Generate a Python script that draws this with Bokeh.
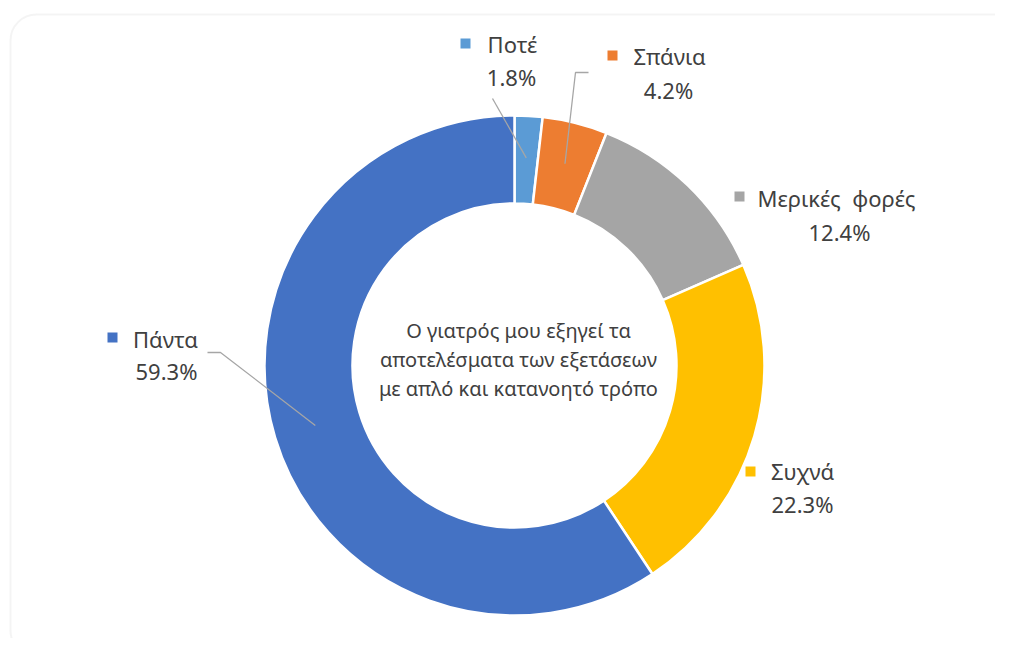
import numpy as np
from bokeh.plotting import figure
from bokeh.models import Range1d, BoxAnnotation, ColumnDataSource
from bokeh.core.properties import value
from bokeh.embed import file_html
from bokeh.resources import INLINE

# ---- data ----
categories = ["Ποτέ", "Σπάνια", "Μερικές\u00a0\u00a0φορές", "Συχνά", "Πάντα"]
values = [1.8, 4.2, 12.4, 22.3, 59.3]
colors = ["#5B9BD5", "#ED7D31", "#A5A5A5", "#FFC000", "#4472C4"]
center_lines = ["Ο γιατρός μου εξηγεί τα",
                "αποτελέσματα των εξετάσεων",
                "με απλό και κατανοητό τρόπο"]

# ---- layout (screen pixels, y downward; converted with y -> -y) ----
W, H = 995, 638
CX, CY = 514, 365
R_OUT, R_IN = 250, 162
FONT = "Noto Sans"
TXT = "#404040"

sq_pos = [(465, 43), (612, 55), (739, 196), (750, 471), (112, 337)]
name_pos = [(512, 43), (669, 55), (836, 197), (802, 470), (165, 338)]
pct_pos = [(511, 76), (668, 89), (839, 231), (802, 503), (166, 370)]
# leader line start points (label side); None = no leader
leader_start = [[(492, 98)], [(588, 72), (575, 72)], None, None, [(207, 352), (220, 352)]]

p = figure(width=W, height=H, x_range=Range1d(0, W), y_range=Range1d(-H, 0),
           toolbar_location=None, output_backend="svg", min_border=0)
p.axis.visible = False
p.grid.visible = False
p.outline_line_color = None
p.background_fill_color = "white"

# frame
p.add_layout(BoxAnnotation(left=10, right=1022, top=-14, bottom=-656, border_radius=26,
                           fill_alpha=0, line_color="#D9D9D9", line_width=2))

# donut
total = sum(values)
frac = np.array(values) / total
cum = np.concatenate([[0], np.cumsum(frac)])
start = np.pi / 2 - cum[1:] * 2 * np.pi
end = np.pi / 2 - cum[:-1] * 2 * np.pi
src = ColumnDataSource(dict(start=start, end=end, color=colors))
p.annular_wedge(x=CX, y=-CY, inner_radius=R_IN, outer_radius=R_OUT, start_angle="start",
                end_angle="end", fill_color="color", line_color="white", line_width=2.5, source=src)

# leader lines
mid = np.pi / 2 - (cum[:-1] + frac / 2) * 2 * np.pi
r_mid = (R_IN + R_OUT) / 2 + 2
for i, pts in enumerate(leader_start):
    if pts is None:
        continue
    ex = CX + r_mid * np.cos(mid[i])
    ey = CY - r_mid * np.sin(mid[i])
    xs = [q[0] for q in pts] + [ex]
    ys = [-q[1] for q in pts] + [-ey]
    p.line(xs, ys, line_color="#A6A6A6", line_width=1.3)

# labels
for i, cat in enumerate(categories):
    p.scatter([sq_pos[i][0]], [-sq_pos[i][1]], marker="square", size=10,
              fill_color=colors[i], line_color=None)
    p.text([name_pos[i][0]], [-name_pos[i][1]], text=[cat], text_font=value(FONT),
           text_font_size="22px", text_color=TXT, text_align="center", text_baseline="middle")
    p.text([pct_pos[i][0]], [-pct_pos[i][1]], text=[f"{values[i]:.1f}%"], text_font=value(FONT),
           text_font_size="22px", text_color=TXT, text_align="center", text_baseline="middle")

# center text
for j, line in enumerate(center_lines):
    p.text([518], [-(330 + 29 * j)], text=[line], text_font=value(FONT), text_font_size="20px",
           text_color=TXT, text_align="center", text_baseline="middle")

open("out.html", "w").write(file_html(p, INLINE))
